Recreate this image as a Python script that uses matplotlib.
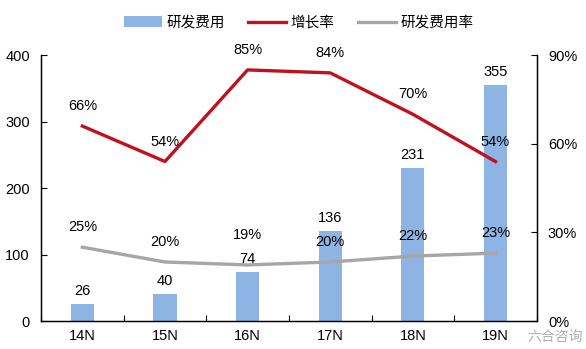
import matplotlib.pyplot as plt
import numpy as np

plt.rcParams['font.family'] = ['Liberation Sans', 'Noto Sans CJK SC']

# dados do gráfico
years = ['14N', '15N', '16N', '17N', '18N', '19N']
rd_cost = [26, 40, 74, 136, 231, 355]
growth = [0.66, 0.54, 0.85, 0.84, 0.70, 0.54]
rd_ratio = [0.25, 0.20, 0.19, 0.20, 0.22, 0.23]

bar_color = '#8DB4E2'
red = '#C0111F'
gray = '#A6A6A6'
fs = 10.5

fig = plt.figure(figsize=(5.86, 3.49), dpi=100)
ax = fig.add_axes([0.07, 0.08, 0.846, 0.762])
ax2 = ax.twinx()

x = np.arange(len(years))
bars = ax.bar(x, rd_cost, width=0.28, color=bar_color, label='研发费用', zorder=2)
ax.set_zorder(ax2.get_zorder() - 1)
ax.patch.set_visible(False)

l1, = ax2.plot(x, growth, color=red, lw=2.4, label='增长率')
l2, = ax2.plot(x, rd_ratio, color=gray, lw=2.4, label='研发费用率')

ax.set_xlim(-0.5, 5.5)
ax.set_ylim(0, 400)
ax.set_yticks([0, 100, 200, 300, 400])
ax2.set_ylim(0, 0.9)
ax2.set_yticks([0, 0.3, 0.6, 0.9])
ax2.set_yticklabels(['0%', '30%', '60%', '90%'])

ax.set_xticks(x)
ax.set_xticklabels(years)
ax.set_xticks(np.arange(-0.5, 6, 1), minor=True)
ax.tick_params(axis='x', which='major', length=0, labelsize=fs, pad=6)
ax.tick_params(axis='x', which='minor', direction='in', length=4, width=0.8)
ax.tick_params(axis='y', direction='in', length=4, labelsize=fs, pad=8)
ax2.tick_params(axis='y', direction='in', length=4, labelsize=fs, pad=8)

for a in (ax, ax2):
    a.spines['top'].set_visible(False)
    for s in ('left', 'right', 'bottom'):
        a.spines[s].set_linewidth(0.9)

for xi, v in zip(x, rd_cost):
    ax.annotate(str(v), (xi, v), xytext=(0, 6), textcoords='offset pixels',
                ha='center', va='bottom', fontsize=fs)

for xi, v in zip(x, growth):
    ax2.annotate(f'{v*100:.0f}%', (xi, v), xytext=(0, 20), textcoords='offset pixels',
                 ha='center', va='center', fontsize=fs)

gray_off = [20, 20, 30, 20, 20, 20]
for xi, v, o in zip(x, rd_ratio, gray_off):
    ax2.annotate(f'{v*100:.0f}%', (xi, v), xytext=(0, o), textcoords='offset pixels',
                 ha='center', va='center', fontsize=fs)

fig.legend(handles=[bars, l1, l2], loc='center', bbox_to_anchor=(0.51, 0.935),
           ncol=3, frameon=False, fontsize=fs, handlelength=2.6,
           columnspacing=1.6, handletextpad=0.3)

# marca d'água no canto
fig.text(0.995, 0.035, '六合咨询', ha='right', va='center', fontsize=10,
         color='#9A9A9A', alpha=0.8)

plt.savefig('out.png', dpi=100)
plt.close()
